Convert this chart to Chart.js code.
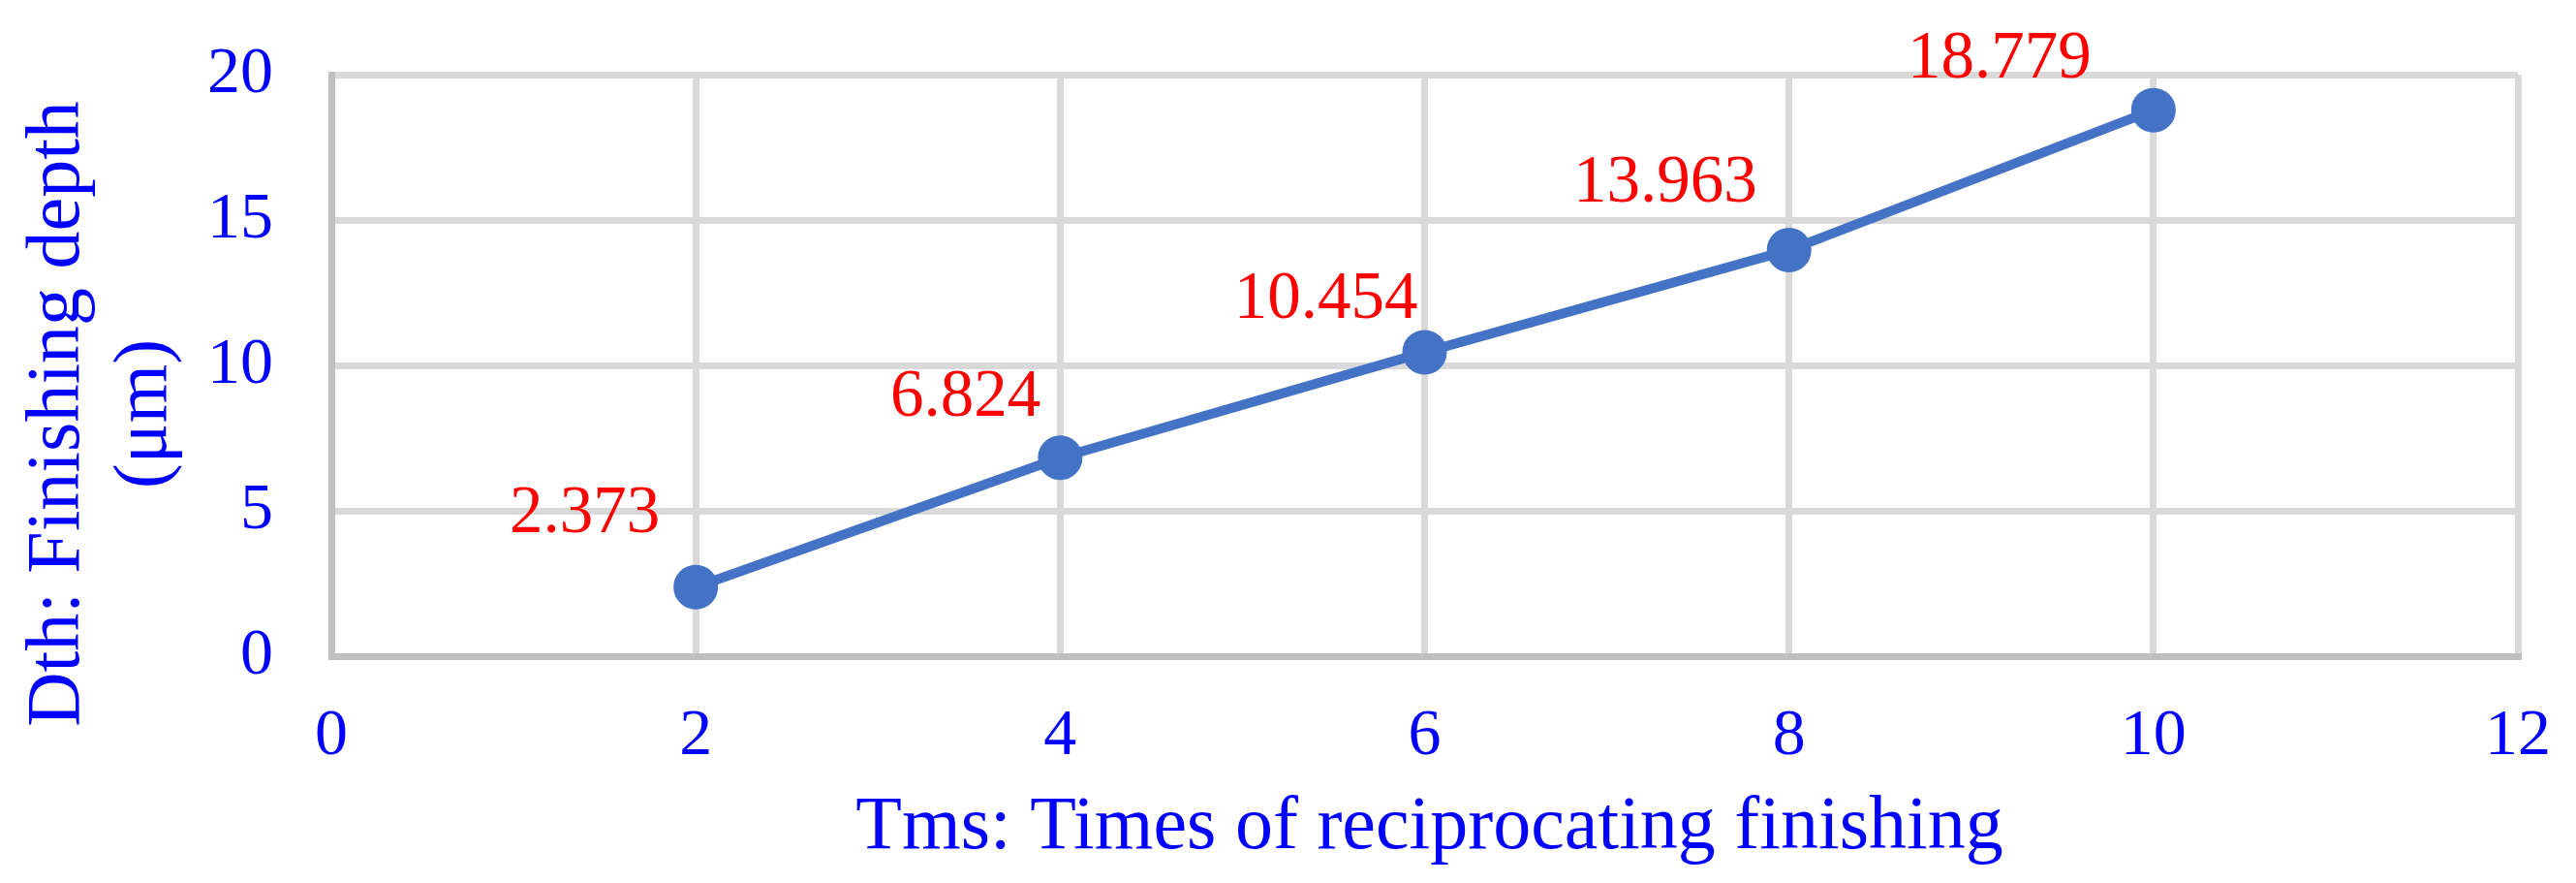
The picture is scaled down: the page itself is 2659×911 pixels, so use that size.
<!DOCTYPE html>
<html>
<head>
<meta charset="utf-8">
<script src="https://cdn.jsdelivr.net/npm/chart.js@4.4.1/dist/chart.umd.min.js"></script>
<style>
  html, body { margin: 0; padding: 0; background: #fff; }
  canvas { display: block; }
</style>
</head>
<body>
<canvas id="chart" width="2659" height="911"></canvas>
<script>
// data
const tms = [2, 4, 6, 8, 10];
const dth = [2.373, 6.824, 10.454, 13.963, 18.779];
const xTitle = 'Tms: Times of reciprocating finishing';
const yTitle = ['Dth: Finishing depth', '(μm)'];

// hand placed value labels (right edge / baseline, relative to the point)
const labelOffsets = [[-37, -57], [-20, -43], [-7, -35], [-33, -50], [-64, -34]];

const FONT = '"Liberation Serif", "Times New Roman", serif';
const BLUE = '#0000FF';
const SERIES = '#4472C4';

/**
 * fixes a scale's box size and drops the edge padding chart.js
 * derives from the tick padding, so the layout padding rules alone
 */
function fixScale (prop, size) {
  return scale => {
    scale[prop] = size;
    scale.paddingTop = scale.paddingBottom = 0;
    scale.paddingLeft = scale.paddingRight = 0;
  };
}

/**
 * draws the red value labels next to each marker
 */
const valueLabels = {
  id: 'valueLabels',
  afterDatasetsDraw (chart) {
    const ctx = chart.ctx;
    const meta = chart.getDatasetMeta(0);
    ctx.save();
    ctx.font = '69px ' + FONT;
    ctx.fillStyle = '#FF0000';
    ctx.textAlign = 'right';
    ctx.textBaseline = 'alphabetic';
    meta.data.forEach((pt, i) => {
      const [dx, dy] = labelOffsets[i];
      ctx.fillText(String(dth[i]), pt.x + dx, pt.y + dy);
    });
    ctx.restore();
  }
};

/**
 * axis titles, placed like the excel export (y title sits a bit low)
 */
const axisTitles = {
  id: 'axisTitles',
  afterDraw (chart) {
    const { ctx, chartArea } = chart;
    ctx.save();
    ctx.font = '78px ' + FONT;
    ctx.fillStyle = BLUE;
    ctx.textAlign = 'center';
    ctx.textBaseline = 'alphabetic';

    // x title
    ctx.fillText(xTitle, (chartArea.left + chartArea.right) / 2 + 5, 875);

    // y title, two lines rotated
    const cy = (chartArea.top + chartArea.bottom) / 2 + 50;
    const baselines = [81, 171];
    yTitle.forEach((line, i) => {
      ctx.save();
      ctx.translate(baselines[i], cy);
      ctx.rotate(-Math.PI / 2);
      ctx.fillText(line, 0, 0);
      ctx.restore();
    });
    ctx.restore();
  }
};

const whiteBg = {
  id: 'whiteBg',
  beforeDraw (chart) {
    const ctx = chart.ctx;
    ctx.save();
    ctx.fillStyle = '#fff';
    ctx.fillRect(0, 0, chart.width, chart.height);
    ctx.restore();
  }
};

new Chart(document.getElementById('chart'), {
  type: 'line',
  data: {
    datasets: [{
      data: tms.map((x, i) => ({ x, y: dth[i] })),
      borderColor: SERIES,
      backgroundColor: SERIES,
      borderWidth: 10,
      pointRadius: 22,
      pointBorderWidth: 2,
      pointBackgroundColor: SERIES,
      pointBorderColor: SERIES,
      tension: 0,
      fill: false,
      clip: false
    }]
  },
  options: {
    responsive: false,
    animation: false,
    devicePixelRatio: 1,
    layout: {
      autoPadding: false, // no extra room for the markers
      padding: { left: 0, top: 77, right: 60, bottom: 0 }
    },
    plugins: {
      legend: { display: false },
      tooltip: { enabled: false }
    },
    scales: {
      x: {
        type: 'linear',
        min: 0,
        max: 12,
        afterFit: fixScale('height', 911 - 677),
        ticks: {
          stepSize: 2,
          color: BLUE,
          padding: 42,
          maxRotation: 0,
          font: { family: FONT, size: 68 }
        },
        grid: { color: '#D9D9D9', lineWidth: 7, drawTicks: false },
        border: { color: '#BFBFBF', width: 7 }
      },
      y: {
        min: 0,
        max: 20,
        afterFit: fixScale('width', 342),
        ticks: {
          stepSize: 5,
          color: BLUE,
          padding: 60,
          font: { family: FONT, size: 68 }
        },
        grid: { color: '#D9D9D9', lineWidth: 7, drawTicks: false },
        border: { color: '#BFBFBF', width: 7 }
      }
    }
  },
  plugins: [whiteBg, valueLabels, axisTitles]
});
</script>
</body>
</html>
